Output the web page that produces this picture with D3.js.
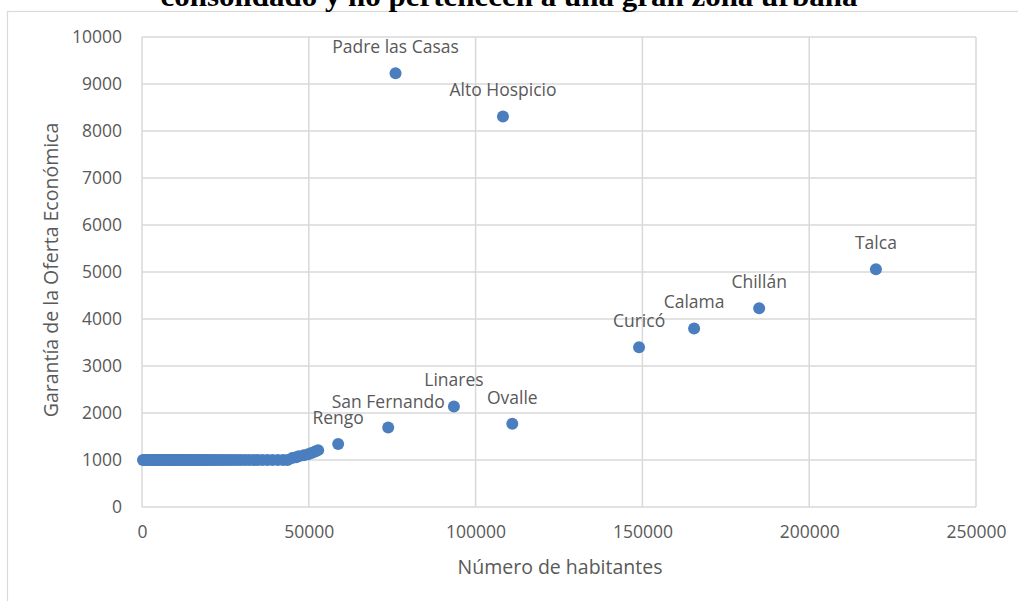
<!DOCTYPE html>
<html>
<head>
<meta charset="utf-8">
<script src="https://cdn.jsdelivr.net/npm/d3@7"></script>
<style>
  body { margin: 0; background: #fff; }
  svg { display: block; }
</style>
</head>
<body>
<svg id="chart" width="1018" height="601"></svg>
<script>
// labelled communes
const cityNames = ["Padre las Casas", "Alto Hospicio", "Talca", "Chillán", "Calama", "Curicó", "Linares", "Ovalle", "San Fernando", "Rengo"];
const cityPop = [76000, 108200, 220000, 185000, 165500, 149000, 93500, 111000, 73800, 58800];
const cityGarantia = [9230, 8310, 5060, 4230, 3800, 3400, 2140, 1770, 1690, 1340];

// unlabelled small communes
const smallPop = [300, 900, 1400, 1900, 2400, 2900, 3300, 3800, 4200, 4700, 5100, 5600, 6000, 6500, 7000, 7400, 7900, 8300, 8800, 9300, 9700, 10200, 10700, 11100, 11600, 12100, 12600, 13000, 13500, 14000, 14600, 15100, 15700, 16200, 16900, 17500, 18100, 18800, 19500, 20300, 21000, 21900, 22800, 23700, 24600, 25500, 26500, 27500, 28600, 29700, 30900, 32100, 33400, 34700, 36100, 37600, 39100, 40700, 42300, 43600, 45000, 46200, 47000, 48500, 49800, 50800, 51900, 52800];
const smallGarantia = [1000, 1000, 1000, 1000, 1000, 1000, 1000, 1000, 1000, 1000, 1000, 1000, 1000, 1000, 1000, 1000, 1000, 1000, 1000, 1000, 1000, 1000, 1000, 1000, 1000, 1000, 1000, 1000, 1000, 1000, 1000, 1000, 1000, 1000, 1000, 1000, 1000, 1000, 1000, 1000, 1000, 1000, 1000, 1000, 1000, 1000, 1000, 1000, 1000, 1000, 1000, 1000, 1000, 1000, 1000, 1000, 1000, 1000, 1000, 1000, 1040, 1060, 1080, 1100, 1120, 1150, 1180, 1210];

const xTicks = [0, 50000, 100000, 150000, 200000, 250000];
const yTicks = [0, 1000, 2000, 3000, 4000, 5000, 6000, 7000, 8000, 9000, 10000];

const titleText = "consolidado y no pertenecen a una gran zona urbana";
const xTitle = "Número de habitantes";
const yTitle = "Garantía de la Oferta Económica";

const svg = d3.select("#chart");
const grey = "#595959";
const gridColor = "#d9d9d9";
const dotColor = "#4a7ebf";

const x = d3.scaleLinear().domain([0, 250000]).range([142, 976]);
const y = d3.scaleLinear().domain([0, 10000]).range([507, 37]);

// chart frame
svg.append("rect")
	.attr("x", 7.5).attr("y", 11.5)
	.attr("width", 1100).attr("height", 700)
	.attr("fill", "none").attr("stroke", gridColor).attr("stroke-width", 1.2);

// title (cut at top, as in the source image)
svg.append("text")
	.attr("x", 509).attr("y", 6)
	.attr("text-anchor", "middle")
	.attr("font-family", "Liberation Serif, serif")
	.attr("font-weight", "bold")
	.attr("font-size", 30)
	.attr("textLength", 697)
	.attr("lengthAdjust", "spacingAndGlyphs")
	.attr("fill", "#000")
	.text(titleText);

// gridlines
svg.append("g").selectAll("line").data(yTicks).enter().append("line")
	.attr("x1", x(0)).attr("x2", x(250000))
	.attr("y1", d => y(d)).attr("y2", d => y(d))
	.attr("stroke", gridColor).attr("stroke-width", 1.5);

svg.append("g").selectAll("line").data(xTicks).enter().append("line")
	.attr("x1", d => x(d)).attr("x2", d => x(d))
	.attr("y1", y(0)).attr("y2", y(10000))
	.attr("stroke", gridColor).attr("stroke-width", 1.5);

// axes via d3 axis generators, then restyled
const yAxis = svg.append("g")
	.attr("transform", "translate(" + (x(0) - 20) + ",0)")
	.call(d3.axisLeft(y).tickValues(yTicks).tickSize(0).tickPadding(0).tickFormat(d3.format("d")));
const xAxis = svg.append("g")
	.attr("transform", "translate(0," + (y(0) + 20) + ")")
	.call(d3.axisBottom(x).tickValues(xTicks).tickSize(0).tickPadding(0).tickFormat(d3.format("d")));

[yAxis, xAxis].forEach(a => {
	a.select(".domain").remove();
	a.selectAll("text")
		.attr("font-family", "Open Sans, sans-serif")
		.attr("font-size", 17.5)
		.attr("fill", grey);
});
xAxis.selectAll("text").attr("dy", "0.6em");

// axis titles
svg.append("text")
	.attr("x", 560).attr("y", 574)
	.attr("text-anchor", "middle")
	.attr("font-family", "Open Sans, sans-serif")
	.attr("font-size", 19.5)
	.attr("fill", grey)
	.text(xTitle);

svg.append("text")
	.attr("transform", "translate(58,270) rotate(-90)")
	.attr("text-anchor", "middle")
	.attr("font-family", "Open Sans, sans-serif")
	.attr("font-size", 19.5)
	.attr("fill", grey)
	.text(yTitle);

// points
const small = smallPop.map((p, i) => ({pop: p, g: smallGarantia[i]}));
const cities = cityPop.map((p, i) => ({pop: p, g: cityGarantia[i], name: cityNames[i]}));

svg.append("g").selectAll("circle").data(small.concat(cities)).enter().append("circle")
	.attr("cx", d => x(d.pop))
	.attr("cy", d => y(d.g))
	.attr("r", 6)
	.attr("fill", dotColor);

// data labels
svg.append("g").selectAll("text").data(cities).enter().append("text")
	.attr("x", d => x(d.pop))
	.attr("y", d => y(d.g) - 20)
	.attr("text-anchor", "middle")
	.attr("font-family", "Open Sans, sans-serif")
	.attr("font-size", 17.5)
	.attr("fill", grey)
	.text(d => d.name);
</script>
</body>
</html>
